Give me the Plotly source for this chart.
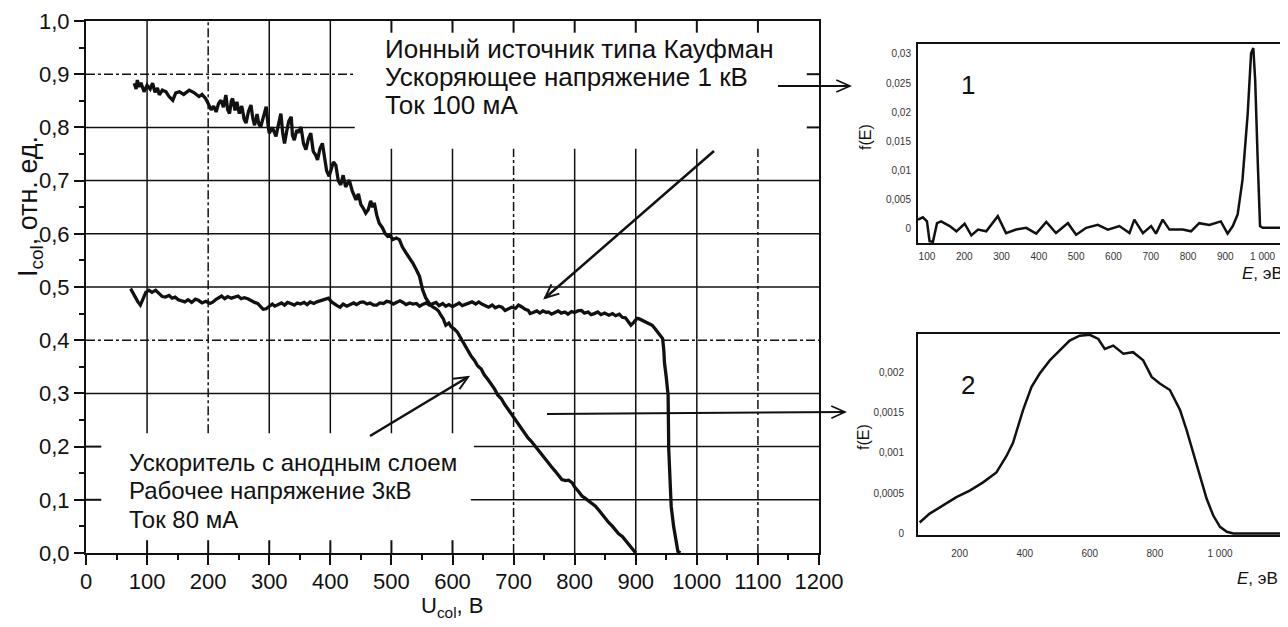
import math
import plotly.graph_objects as go

# ---------------- data ----------------
# Main plot: curve of the Kaufman ion source
U1 = [79, 82, 84, 87, 90, 95, 100, 105, 109, 113, 117, 120, 125, 131, 136, 142, 147, 153, 160, 169,
      176, 185, 190, 196, 200, 205, 209, 213, 217, 221, 225, 229, 232, 235, 238, 240, 244, 247, 251, 255,
      259, 262, 266, 270, 273, 276, 280, 283, 286, 290, 295, 298, 300, 305, 308, 311, 315, 319, 322, 325,
      329, 332, 336, 338, 341, 345, 348, 352, 356, 360, 364, 368, 372, 376, 379, 383, 387, 391, 394, 398,
      402, 405, 409, 413, 417, 421, 425, 431, 436, 442, 446, 450, 454, 458, 462, 466, 469, 472, 476, 480,
      485, 490, 494, 498, 502, 508, 513, 518, 524, 530, 535, 541, 546, 551, 556, 562, 567, 573, 577, 581,
      585, 589, 594, 598, 603, 608, 614, 620, 625, 630, 636, 641, 647, 652, 658, 663, 669, 674, 680, 685,
      691, 697, 702, 708, 713, 718, 724, 729, 735, 740, 746, 751, 757, 762, 768, 773, 779, 785, 790, 796,
      800, 806, 812, 817, 823, 829, 834, 840, 845, 851, 856, 862, 867, 872, 878, 884, 889, 895, 900]
I1 = [0.883, 0.872, 0.889, 0.876, 0.884, 0.867, 0.879, 0.872, 0.883, 0.866, 0.874, 0.861, 0.870, 0.867,
      0.858, 0.851, 0.865, 0.867, 0.862, 0.870, 0.866, 0.858, 0.862, 0.854, 0.845, 0.833, 0.840, 0.829,
      0.845, 0.851, 0.838, 0.861, 0.833, 0.826, 0.850, 0.854, 0.832, 0.848, 0.826, 0.840, 0.815, 0.808,
      0.830, 0.842, 0.818, 0.804, 0.825, 0.806, 0.801, 0.820, 0.839, 0.805, 0.789, 0.800, 0.790, 0.783,
      0.805, 0.826, 0.790, 0.770, 0.795, 0.812, 0.820, 0.785, 0.776, 0.795, 0.790, 0.801, 0.770, 0.758,
      0.778, 0.789, 0.755, 0.748, 0.739, 0.760, 0.770, 0.735, 0.718, 0.708, 0.722, 0.735, 0.729, 0.700,
      0.692, 0.710, 0.688, 0.701, 0.680, 0.664, 0.675, 0.655, 0.648, 0.639, 0.645, 0.662, 0.650, 0.658,
      0.635, 0.620, 0.612, 0.600, 0.595, 0.598, 0.589, 0.592, 0.589, 0.575, 0.564, 0.555, 0.545, 0.532,
      0.520, 0.495, 0.480, 0.469, 0.463, 0.459, 0.455, 0.447, 0.440, 0.428, 0.432, 0.425, 0.421, 0.415,
      0.403, 0.392, 0.380, 0.371, 0.362, 0.352, 0.346, 0.335, 0.326, 0.318, 0.308, 0.297, 0.290, 0.280,
      0.270, 0.262, 0.252, 0.242, 0.233, 0.226, 0.216, 0.210, 0.201, 0.193, 0.185, 0.177, 0.170, 0.162,
      0.154, 0.146, 0.138, 0.136, 0.137, 0.132, 0.124, 0.116, 0.107, 0.103, 0.098, 0.094, 0.088, 0.080,
      0.072, 0.065, 0.057, 0.050, 0.042, 0.036, 0.031, 0.022, 0.015, 0.006, 0.0]

# Main plot: curve of the anode-layer accelerator
U2 = [73, 77, 81, 85, 89, 94, 98, 103, 108, 114, 120, 125, 130, 136, 141, 146, 151, 156, 162, 167,
      173, 179, 184, 190, 196, 203, 208, 213, 218, 222, 227, 232, 238, 243, 249, 254, 259, 265, 270, 276,
      281, 286, 290, 295, 300, 305, 309, 314, 320, 325, 330, 335, 341, 346, 351, 357, 362, 367, 373, 378,
      384, 390, 397, 402, 406, 411, 416, 421, 427, 432, 438, 443, 449, 454, 460, 465, 471, 476, 481, 487,
      492, 497, 503, 508, 514, 519, 524, 530, 535, 541, 546, 551, 557, 562, 568, 573, 578, 584, 589, 594,
      600, 605, 611, 616, 622, 627, 632, 638, 643, 648, 654, 659, 665, 670, 676, 681, 686, 692, 697, 703,
      708, 713, 719, 724, 727, 732, 738, 743, 748, 754, 757, 762, 768, 773, 778, 784, 789, 795, 800, 805,
      811, 816, 822, 827, 832, 838, 843, 849, 856, 862, 867, 873, 878, 883, 887, 892, 897, 902, 906, 911,
      916, 922, 927, 932, 936, 940, 944, 946, 947, 950, 953, 954, 956, 958, 962, 966, 969, 973]
I2 = [0.497, 0.488, 0.478, 0.472, 0.466, 0.478, 0.490, 0.494, 0.490, 0.494, 0.487, 0.482, 0.481, 0.484,
      0.479, 0.481, 0.476, 0.474, 0.472, 0.476, 0.471, 0.477, 0.475, 0.470, 0.473, 0.469, 0.472, 0.477,
      0.480, 0.483, 0.478, 0.482, 0.479, 0.481, 0.483, 0.478, 0.480, 0.478, 0.474, 0.471, 0.469, 0.462,
      0.458, 0.459, 0.463, 0.468, 0.464, 0.466, 0.470, 0.466, 0.471, 0.469, 0.466, 0.470, 0.468, 0.471,
      0.467, 0.472, 0.469, 0.472, 0.474, 0.477, 0.479, 0.472, 0.468, 0.465, 0.462, 0.468, 0.464, 0.466,
      0.470, 0.467, 0.471, 0.472, 0.468, 0.470, 0.466, 0.466, 0.470, 0.469, 0.473, 0.472, 0.468, 0.471,
      0.474, 0.471, 0.467, 0.470, 0.468, 0.469, 0.464, 0.467, 0.470, 0.466, 0.468, 0.471, 0.465, 0.469,
      0.464, 0.467, 0.463, 0.466, 0.470, 0.465, 0.468, 0.469, 0.472, 0.468, 0.472, 0.468, 0.464, 0.462,
      0.466, 0.461, 0.464, 0.462, 0.456, 0.459, 0.462, 0.460, 0.466, 0.463, 0.458, 0.456, 0.450, 0.452,
      0.455, 0.451, 0.455, 0.452, 0.453, 0.449, 0.452, 0.455, 0.451, 0.453, 0.449, 0.454, 0.452, 0.455,
      0.456, 0.451, 0.453, 0.448, 0.450, 0.453, 0.448, 0.451, 0.447, 0.450, 0.446, 0.449, 0.443, 0.442,
      0.436, 0.428, 0.434, 0.441, 0.440, 0.437, 0.434, 0.431, 0.428, 0.421, 0.415, 0.410, 0.403, 0.380,
      0.358, 0.330, 0.296, 0.195, 0.140, 0.088, 0.050, 0.019, 0.003, 0.0]

# Inset 1: energy distribution, Kaufman source
E1 = [76, 89, 100, 107, 116, 127, 138, 161, 179, 201, 219, 237, 259, 290, 312, 339, 366, 393, 420, 446,
      478, 500, 527, 558, 585, 616, 643, 656, 679, 701, 714, 732, 750, 786, 808, 830, 857, 888, 906, 920,
      933, 946, 960, 969, 975, 980, 987, 993, 1000, 1068]
F1 = [0.0016, 0.002, 0.0013, -0.0021, -0.0022, 0.001, 0.0013, 0.0005, -0.0004, 0.0009, -0.0011, -0.0001,
      -0.0004, 0.0022, -0.0007, -0.0001, 0.0002, -0.0008, 0.0012, -0.0007, 0.001, -0.001, 0.0002, 0.0007,
      -0.0001, 0.0005, -0.0007, 0.0016, -0.0007, 0.0005, -0.0008, 0.0016, -0.0001, -0.0001, -0.0004, 0.001,
      0.0007, 0.0013, -0.0008, 0.0005, 0.0025, 0.0084, 0.0198, 0.0301, 0.031, 0.0255, 0.0113, 0.0005,
      0.0002, 0.0002]

# Inset 2: energy distribution, anode-layer accelerator
E2 = [77, 108, 149, 190, 231, 272, 313, 344, 364, 379, 395, 421, 446, 477, 508, 538, 569, 600, 626, 646,
      672, 703, 733, 764, 790, 815, 846, 877, 897, 918, 938, 959, 979, 1000, 1021, 1041, 1209]
F2 = [0.000135, 0.000246, 0.000348, 0.00045, 0.000533, 0.000635, 0.000758, 0.000963, 0.001127, 0.001332,
      0.001537, 0.001824, 0.001988, 0.002152, 0.002275, 0.002398, 0.002459, 0.00247, 0.002418, 0.002295,
      0.002336, 0.002234, 0.002254, 0.002152, 0.001947, 0.001865, 0.001783, 0.001537, 0.001291, 0.001004,
      0.000717, 0.00043, 0.000225, 0.000082, 0.00002, 0.0, 0.0]

INS1_YTICKS = [0, 0.005, 0.01, 0.015, 0.02, 0.025, 0.03]
INS1_YTEXT = ["0", "0,005", "0,01", "0,015", "0,02", "0,025", "0,03"]
INS1_XTICKS = [100, 200, 300, 400, 500, 600, 700, 800, 900, 1000]
INS1_XTEXT = ["100", "200", "300", "400", "500", "600", "700", "800", "900", "1 000"]
INS2_YTICKS = [0, 0.0005, 0.001, 0.0015, 0.002]
INS2_YTEXT = ["0", "0,0005", "0,001", "0,0015", "0,002"]
INS2_XTICKS = [200, 400, 600, 800, 1000]
INS2_XTEXT = ["200", "400", "600", "800", "1 000"]

TEXT_TOP = ["Ионный источник типа Кауфман", "Ускоряющее напряжение 1 кВ", "Ток 100 мА"]
TEXT_BOT = ["Ускоритель с анодным слоем", "Рабочее напряжение 3кВ", "Ток 80 мА"]

# ---------------- layout helpers ----------------
# the page shows the figure 8 px in from the top-left corner (body margin)
OFF = 8
W, H = 1288 - OFF, 627 - OFF
def X(px):
    return (px - OFF) / W
def Y(py):
    return 1 - (py - OFF) / H

TF = "Liberation Sans, Arial, sans-serif"
TXT = "Liberation Sans, Arial, sans-serif"
INK = "#111111"

fig = go.Figure()
fig.add_trace(go.Scatter(x=U1, y=I1, mode="lines", line=dict(color=INK, width=3.3),
                         xaxis="x", yaxis="y", showlegend=False, hoverinfo="skip"))
fig.add_trace(go.Scatter(x=U2, y=I2, mode="lines", line=dict(color=INK, width=3.3),
                         xaxis="x", yaxis="y", showlegend=False, hoverinfo="skip"))
fig.add_trace(go.Scatter(x=E1, y=F1, mode="lines", line=dict(color=INK, width=2.5),
                         xaxis="x2", yaxis="y2", showlegend=False, hoverinfo="skip"))
fig.add_trace(go.Scatter(x=E2, y=F2, mode="lines", line=dict(color=INK, width=2.5),
                         xaxis="x3", yaxis="y3", showlegend=False, hoverinfo="skip"))

shapes = []
def gl(x0, y0, x1, y1, dash="solid", w=1.5):
    shapes.append(dict(type="line", xref="x", yref="y", x0=x0, y0=y0, x1=x1, y1=y1,
                       line=dict(color=INK, width=w, dash=dash), layer="below"))

vgrid = {100: (0.225, 1.0, "solid"), 200: (0.225, 1.0, "dashdot"), 300: (0.225, 1.0, "solid"),
         400: (0.225, 1.0, "solid"), 500: (0.225, 0.76, "solid"), 600: (0.225, 0.76, "solid"),
         700: (0.0, 0.76, "dashdot"), 800: (0.0, 0.76, "solid"), 900: (0.0, 0.76, "solid"),
         1000: (0.0, 0.76, "solid"), 1100: (0.0, 0.76, "dashdot")}
for xv, (a, b, d) in vgrid.items():
    gl(xv, a, xv, b, d)
hgrid = {0.9: (0, 440, "dashdot"), 0.8: (0, 440, "solid"), 0.7: (0, 1200, "solid"),
         0.6: (0, 1200, "solid"), 0.5: (0, 1200, "solid"), 0.4: (0, 1200, "dashdot"),
         0.3: (0, 1200, "solid"), 0.2: (635, 1200, "solid"), 0.1: (630, 1200, "solid")}
for yv, (a, b, d) in hgrid.items():
    gl(a, yv, b, yv, d)
for xv in [100, 200, 300, 400, 500, 600]:
    gl(xv, 0, xv, 0.024, "solid", 2)
for xv in [500, 600, 700, 800, 900, 1000, 1100]:
    gl(xv, 1.0, xv, 0.978, "solid", 2)
for yv in [0.1, 0.2]:
    gl(0, yv, 25, yv, "solid", 2)
for yv in [0.8, 0.9]:
    gl(1200, yv, 1180, yv, "solid", 2)

def arrow(tx, ty, hx, hy, w=2.5, wing=15, ang=24):
    shapes.append(dict(type="line", xref="paper", yref="paper", x0=X(tx), y0=Y(ty), x1=X(hx), y1=Y(hy),
                       line=dict(color=INK, width=w)))
    dx, dy = tx - hx, ty - hy
    n = math.hypot(dx, dy)
    ux, uy = dx / n, dy / n
    pts = []
    for s in (1, -1):
        a = math.radians(ang) * s
        rx = ux * math.cos(a) - uy * math.sin(a)
        ry = ux * math.sin(a) + uy * math.cos(a)
        pts.append((hx + wing * rx, hy + wing * ry))
    path = "M {} {} L {} {} L {} {}".format(X(pts[0][0]), Y(pts[0][1]), X(hx), Y(hy), X(pts[1][0]), Y(pts[1][1]))
    shapes.append(dict(type="path", xref="paper", yref="paper", path=path,
                       line=dict(color=INK, width=w * 0.8)))

arrow(714, 151, 545, 298)
arrow(370, 436, 468, 377)
arrow(778, 86, 850, 86, w=2)
arrow(547, 414, 845, 412, w=2)

annotations = []
def txt(text, px, py, size, xanchor="left", angle=0, font=TXT):
    annotations.append(dict(text=text, x=X(px), y=Y(py), xref="paper", yref="paper", showarrow=False,
                            xanchor=xanchor, yanchor="middle", textangle=angle,
                            font=dict(family=font, size=size, color=INK)))

for i, t in enumerate(TEXT_TOP):
    txt(t, 383, 49 + i * 28, 26)
for i, t in enumerate(TEXT_BOT):
    txt(t, 127, 462 + i * 28.5, 24)

txt("I<sub>col</sub>, отн. ед.", 30, 207, 27, xanchor="center", angle=-90)
txt("U<sub>col</sub>, B", 452, 607, 22, xanchor="center")
txt("1", 968, 85, 26, xanchor="center")
txt("2", 968, 385, 26, xanchor="center")
txt("f(E)", 865, 137, 16, xanchor="center", angle=-90)
txt("f(E)", 863, 437, 16, xanchor="center", angle=-90)
txt("<i>E</i>, эВ", 1262, 273, 17, xanchor="center")
txt("<i>E</i>, эВ", 1257, 578, 17, xanchor="center")

main_ax = dict(showline=True, linewidth=2, linecolor=INK, mirror=True, ticks="outside", ticklen=10,
               tickwidth=2, tickcolor=INK, showgrid=False, zeroline=False, automargin=False,
               tickfont=dict(family=TF, size=22, color=INK))
ins_ax = dict(showline=True, linewidth=2, linecolor=INK, ticks="", showgrid=False, zeroline=False,
              automargin=False, tickfont=dict(family=TF, size=10, color="#333333"), tickmode="array")

fig.update_layout(
    template="none",
    width=W, height=H, margin=dict(l=0, r=0, t=0, b=0, autoexpand=False),
    paper_bgcolor="white", plot_bgcolor="white", separators=", ", showlegend=False,
    xaxis=dict(main_ax, domain=[X(86), X(819)], range=[0, 1200], dtick=100, tick0=0, anchor="y",
               ticklabelstandoff=-2,
               minor=dict(dtick=50, ticks="outside", ticklen=5, tickwidth=1.5, tickcolor=INK, showgrid=False)),
    yaxis=dict(main_ax, domain=[Y(553), Y(21)], range=[0, 1], dtick=0.1, tick0=0, tickformat=".1f", anchor="x",
               minor=dict(dtick=0.05, ticks="outside", ticklen=5, tickwidth=1.5, tickcolor=INK, showgrid=False)),
    xaxis2=dict(ins_ax, domain=[X(918), 1.0], range=[76, 1068], anchor="y2", mirror=True,
                tickvals=INS1_XTICKS, ticktext=INS1_XTEXT, ticklabelstandoff=3),
    yaxis2=dict(ins_ax, domain=[Y(243), Y(44)], range=[-0.0024, 0.0317], anchor="x2",
                tickvals=INS1_YTICKS, ticktext=INS1_YTEXT, ticklabelstandoff=3),
    xaxis3=dict(ins_ax, domain=[X(918), 1.0], range=[72, 1209], anchor="y3", mirror=True,
                tickvals=INS2_XTICKS, ticktext=INS2_XTEXT, ticklabelstandoff=8),
    yaxis3=dict(ins_ax, domain=[Y(535), Y(334)], range=[-0.00002, 0.00248], anchor="x3",
                tickvals=INS2_YTICKS, ticktext=INS2_YTEXT, ticklabelstandoff=10),
    shapes=shapes, annotations=annotations,
)

fig.write_html("out.html")
